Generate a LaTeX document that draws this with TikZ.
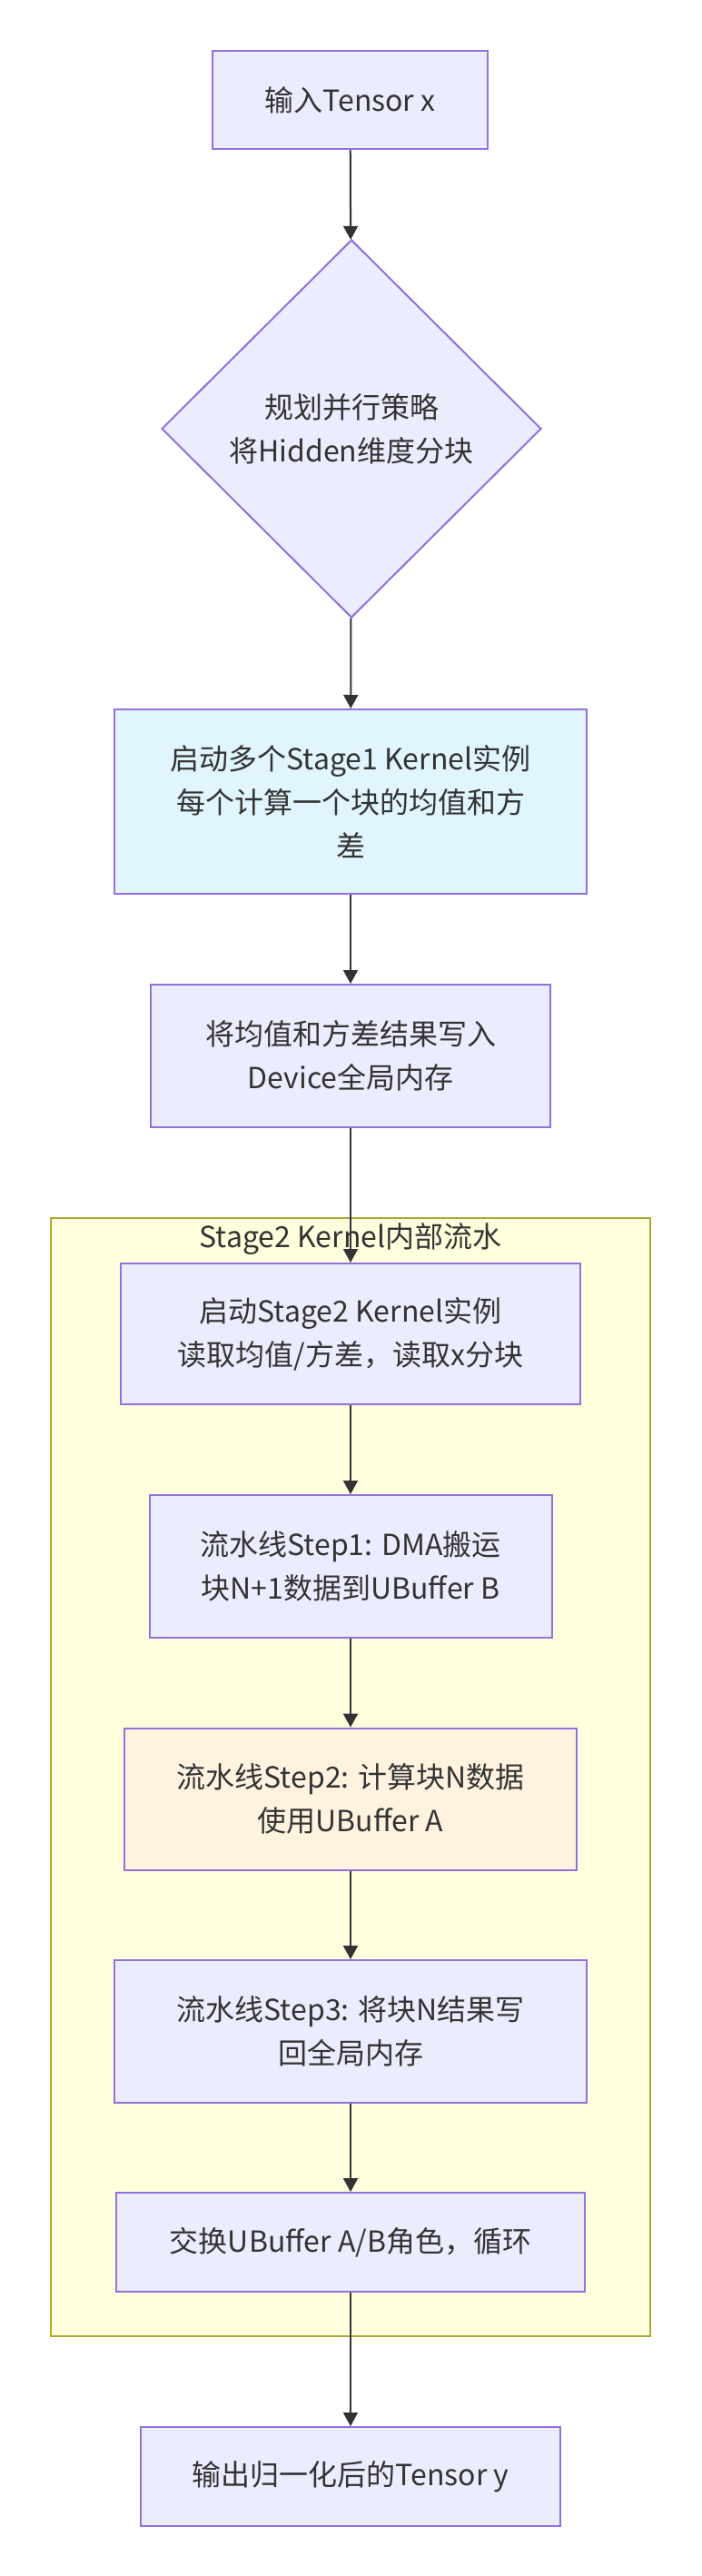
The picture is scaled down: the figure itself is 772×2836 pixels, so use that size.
\documentclass[tikz,border=0pt]{standalone}
\usepackage{fontspec}
\newfontfamily\cjk{Noto Sans CJK SC}
\usepackage{tikz}
\usetikzlibrary{positioning,arrows.meta,shapes.geometric}
\definecolor{procfill}{HTML}{ECECFF}
\definecolor{procline}{HTML}{9370DB}
\definecolor{bluefill}{HTML}{E1F5FE}
\definecolor{orangefill}{HTML}{FFF3E0}
\definecolor{clfill}{HTML}{FFFFDE}
\definecolor{clline}{HTML}{AAAA33}
\definecolor{ink}{HTML}{333333}
\tikzset{
  >={Triangle[length=7.5pt,width=8pt]},
  proc/.style={rectangle,draw=procline,fill=procfill,line width=1pt,
    inner sep=0pt,align=center,text=ink,font=\cjk\fontsize{16}{24}\selectfont},
  procblue/.style={proc,fill=bluefill},
  procorange/.style={proc,fill=orangefill},
  decide/.style={proc,diamond,aspect=1},
  clusterbox/.style={rectangle,draw=clline,fill=clfill,line width=1pt,inner sep=0pt},
  clusterlbl/.style={text=ink,font=\cjk\fontsize{16}{24}\selectfont,inner sep=0pt},
  flow/.style={->,draw=ink,line width=1pt},
}
\begin{document}
\begin{tikzpicture}[x=0.5pt,y=-0.5pt]
  \fill[white] (0,0) rectangle (772,2836);
  \useasboundingbox (0,0) rectangle (772,2836);
  % stage 2 cluster
  \node[clusterbox,minimum width=329.75pt,minimum height=615.7pt] (stg) at (385.75,1956.3) {};
  \node[clusterlbl] (stglbl) at (386,1364) {Stage2 Kernel内部流水};
  % main flow
  \node[proc,minimum width=151.5pt,minimum height=54.25pt] (in) at (385.5,110) {输入Tensor x};
  \node[decide,minimum width=209pt,minimum height=208pt] (plan) at (387,472)
    {规划并行策略\\将Hidden维度分块};
  \node[procblue,minimum width=260pt,minimum height=101.5pt] (s1) at (386,882.5)
    {启动多个Stage1 Kernel实例\\每个计算一个块的均值和方\\差};
  \node[proc,minimum width=220pt,minimum height=78.3pt] (wr) at (386,1162.3)
    {将均值和方差结果写入\\Device全局内存};
  % inside the cluster
  \node[proc,minimum width=252.8pt,minimum height=77.5pt] (s2) at (386,1468.5)
    {启动Stage2 Kernel实例\\读取均值/方差，读取x分块};
  \node[proc,minimum width=221.5pt,minimum height=78.3pt] (st1) at (386,1724.3)
    {流水线Step1: DMA搬运\\块N+1数据到UBuffer B};
  \node[procorange,minimum width=249pt,minimum height=78pt] (st2) at (386,1980.6)
    {流水线Step2: 计算块N数据\\使用UBuffer A};
  \node[proc,minimum width=260pt,minimum height=78.3pt] (st3) at (386,2236.3)
    {流水线Step3: 将块N结果写\\回全局内存};
  \node[proc,minimum width=258pt,minimum height=54.25pt] (swap) at (386,2468.3)
    {交换UBuffer A/B角色，循环};
  % output
  \node[proc,minimum width=231pt,minimum height=54.5pt] (out) at (386,2726.5)
    {输出归一化后的Tensor y};
  % arrows
  \draw[flow] (in)--(plan); \draw[flow] (plan)--(s1); \draw[flow] (s1)--(wr);
  \draw[flow] (wr)--(s2);
  \draw[flow] (s2)--(st1); \draw[flow] (st1)--(st2); \draw[flow] (st2)--(st3);
  \draw[flow] (st3)--(swap); \draw[flow] (swap)--(out);
\end{tikzpicture}
\end{document}
